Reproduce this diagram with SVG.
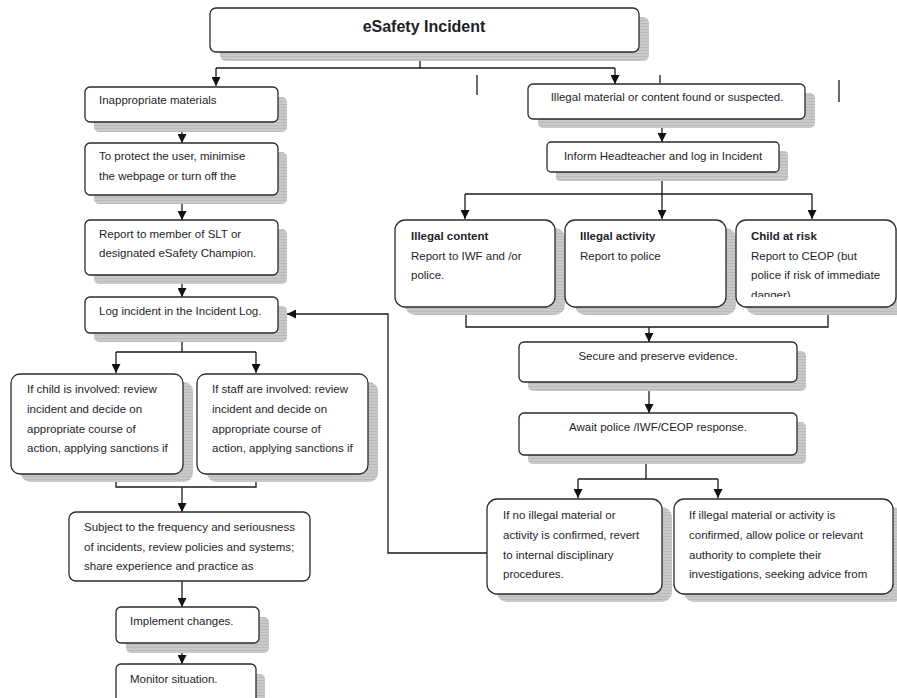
<svg xmlns="http://www.w3.org/2000/svg" width="897" height="698" viewBox="0 0 897 698">
<style>
.bg{fill:#ffffff}
.box{fill:#ffffff;stroke:#2a2a2a;stroke-width:1.3}
.sh{fill:url(#hatch)}
.t{font-family:"Liberation Sans",Arial,sans-serif;font-size:11.5px;fill:#1e1e2a}
.b{font-weight:bold}
.m{text-anchor:middle}
.title{font-family:"Liberation Sans",Arial,sans-serif;font-size:16px;font-weight:bold;fill:#1e1e2a;text-anchor:middle}
.c{fill:none;stroke:#1a1a1a;stroke-width:1.3}
.a{marker-end:url(#arr)}
</style>
<defs>
<pattern id="hatch" width="4" height="3" patternUnits="userSpaceOnUse">
<rect width="4" height="3" fill="#c9c9c9"/>
<rect y="2" width="4" height="1" fill="#bababa"/>
</pattern>
<marker id="arr" viewBox="0 0 10 10" refX="10" refY="5" markerWidth="9" markerHeight="9" markerUnits="userSpaceOnUse" orient="auto">
<path d="M0,0 L10,5 L0,10 z" fill="#111"/>
</marker>
<clipPath id="clipChild"><rect x="736" y="220" width="161" height="77"/></clipPath>
</defs>
<rect class="bg" width="897" height="698"/>

<g id="connectors">
<path class="c" d="M420,52 V68 M216,68 H615"/>
<path class="c a" d="M216,68 V86"/>
<path class="c a" d="M615,68 V84"/>
<path class="c a" d="M182,122 V143"/>
<path class="c a" d="M182,195 V220"/>
<path class="c a" d="M182,275 V297"/>
<path class="c" d="M182,333 V352 M116,352 H256"/>
<path class="c a" d="M116,352 V373"/>
<path class="c a" d="M256,352 V373"/>
<path class="c" d="M116,480 V487 H256 V480"/>
<path class="c a" d="M182,487 V512"/>
<path class="c a" d="M182,581 V607"/>
<path class="c a" d="M182,643 V664"/>
<path class="c" d="M477,75 V95 M660,75 V83 M839,80 V102"/>
<path class="c a" d="M662,119 V142"/>
<path class="c" d="M662,172 V194 M465,194 H812"/>
<path class="c a" d="M465,194 V219"/>
<path class="c a" d="M662,194 V219"/>
<path class="c a" d="M812,194 V219"/>
<path class="c" d="M466,313 V327 H828 V313"/>
<path class="c a" d="M649,327 V342"/>
<path class="c a" d="M649,382 V413"/>
<path class="c" d="M646,460 V479 M578,479 H718"/>
<path class="c a" d="M578,479 V498"/>
<path class="c a" d="M718,479 V498"/>
<path class="c a" d="M487,553 H388 V314 H287"/>
</g>

<g id="n-title">
<rect class="sh" x="220" y="17" width="429" height="44" rx="6"/>
<rect class="box" x="210" y="8" width="429" height="44" rx="6"/>
<text class="title" x="424" y="32">eSafety Incident</text>
</g>

<g id="n-inappropriate">
<rect class="sh" x="94" y="97" width="193" height="35" rx="5"/>
<rect class="box" x="85" y="87" width="193" height="35" rx="5"/>
<text class="t" x="99" y="104">Inappropriate materials</text>
</g>

<g id="n-protect">
<rect class="sh" x="94" y="152" width="193" height="52" rx="5"/>
<rect class="box" x="85" y="143" width="193" height="52" rx="5"/>
<text class="t" x="99" y="160">To protect the user, minimise</text>
<text class="t" x="99" y="180">the webpage or turn off the</text>
</g>

<g id="n-report">
<rect class="sh" x="94" y="229" width="193" height="55" rx="5"/>
<rect class="box" x="85" y="220" width="193" height="55" rx="5"/>
<text class="t" x="99" y="238">Report to member of SLT or</text>
<text class="t" x="99" y="257">designated eSafety Champion.</text>
</g>

<g id="n-log">
<rect class="sh" x="94" y="306" width="193" height="36" rx="5"/>
<rect class="box" x="85" y="297" width="193" height="36" rx="5"/>
<text class="t" x="99" y="315">Log incident in the Incident Log.</text>
</g>

<g id="n-child">
<rect class="sh" x="21" y="382" width="172" height="100" rx="9"/>
<rect class="box" x="11" y="374" width="172" height="100" rx="9"/>
<text class="t" x="27" y="393">If child is involved: review</text>
<text class="t" x="27" y="413">incident and decide on</text>
<text class="t" x="27" y="433">appropriate course of</text>
<text class="t" x="27" y="452">action, applying sanctions if</text>
</g>

<g id="n-staff">
<rect class="sh" x="207" y="382" width="171" height="100" rx="9"/>
<rect class="box" x="197" y="374" width="171" height="100" rx="9"/>
<text class="t" x="212" y="393">If staff are involved: review</text>
<text class="t" x="212" y="413">incident and decide on</text>
<text class="t" x="212" y="433">appropriate course of</text>
<text class="t" x="212" y="452">action, applying sanctions if</text>
</g>

<g id="n-subject">
<rect class="box" x="69" y="512" width="241" height="69" rx="7"/>
<text class="t" x="84" y="531">Subject to the frequency and seriousness</text>
<text class="t" x="84" y="551">of incidents, review policies and systems;</text>
<text class="t" x="84" y="570">share experience and practice as</text>
</g>

<g id="n-implement">
<rect class="sh" x="126" y="617" width="143" height="36" rx="5"/>
<rect class="box" x="116" y="607" width="143" height="36" rx="5"/>
<text class="t" x="130" y="625">Implement changes.</text>
</g>

<g id="n-monitor">
<rect class="sh" x="126" y="674" width="139" height="40" rx="5"/>
<rect class="box" x="116" y="664" width="140" height="44" rx="5"/>
<text class="t" x="130" y="683">Monitor situation.</text>
</g>

<g id="n-illegal-material">
<rect class="sh" x="538" y="93" width="277" height="35" rx="5"/>
<rect class="box" x="528" y="84" width="277" height="35" rx="5"/>
<text class="t m" x="667" y="101">Illegal material or content found or suspected.</text>
</g>

<g id="n-inform">
<rect class="sh" x="556" y="151" width="232" height="30" rx="4"/>
<rect class="box" x="547" y="142" width="232" height="30" rx="4"/>
<text class="t m" x="663" y="160">Inform Headteacher and log in Incident</text>
</g>

<g id="n-illegal-content">
<rect class="sh" x="405" y="228" width="160" height="87" rx="10"/>
<rect class="box" x="395" y="220" width="160" height="87" rx="10"/>
<text class="t b" x="411" y="240">Illegal content</text>
<text class="t" x="411" y="260">Report to IWF and /or</text>
<text class="t" x="411" y="279">police.</text>
</g>

<g id="n-illegal-activity">
<rect class="sh" x="575" y="228" width="161" height="87" rx="10"/>
<rect class="box" x="565" y="220" width="161" height="87" rx="10"/>
<text class="t b" x="580" y="240">Illegal activity</text>
<text class="t" x="580" y="260">Report to police</text>
</g>

<g id="n-child-risk">
<rect class="sh" x="746" y="228" width="160" height="87" rx="10"/>
<rect class="box" x="736" y="220" width="160" height="87" rx="10"/>
<text class="t b" x="751" y="240">Child at risk</text>
<text class="t" x="751" y="260">Report to CEOP (but</text>
<text class="t" x="751" y="279">police if risk of immediate</text>
<text class="t" x="751" y="299" clip-path="url(#clipChild)">danger)</text>
</g>

<g id="n-secure">
<rect class="sh" x="528" y="351" width="278" height="40" rx="5"/>
<rect class="box" x="519" y="342" width="278" height="40" rx="5"/>
<text class="t m" x="658" y="360">Secure and preserve evidence.</text>
</g>

<g id="n-await">
<rect class="sh" x="528" y="422" width="278" height="42" rx="5"/>
<rect class="box" x="519" y="413" width="278" height="42" rx="5"/>
<text class="t m" x="658" y="431">Await police /IWF/CEOP response.</text>
</g>

<g id="n-no-illegal">
<rect class="sh" x="497" y="507" width="175" height="95" rx="10"/>
<rect class="box" x="487" y="499" width="175" height="95" rx="10"/>
<text class="t" x="503" y="519">If no illegal material or</text>
<text class="t" x="503" y="539">activity is confirmed, revert</text>
<text class="t" x="503" y="559">to internal disciplinary</text>
<text class="t" x="503" y="578">procedures.</text>
</g>

<g id="n-illegal-confirmed">
<rect class="sh" x="684" y="507" width="219" height="95" rx="10"/>
<rect class="box" x="674" y="499" width="219" height="95" rx="10"/>
<text class="t" x="689" y="519">If illegal material or activity is</text>
<text class="t" x="689" y="539">confirmed, allow police or relevant</text>
<text class="t" x="689" y="559">authority to complete their</text>
<text class="t" x="689" y="578">investigations, seeking advice from</text>
</g>
</svg>
